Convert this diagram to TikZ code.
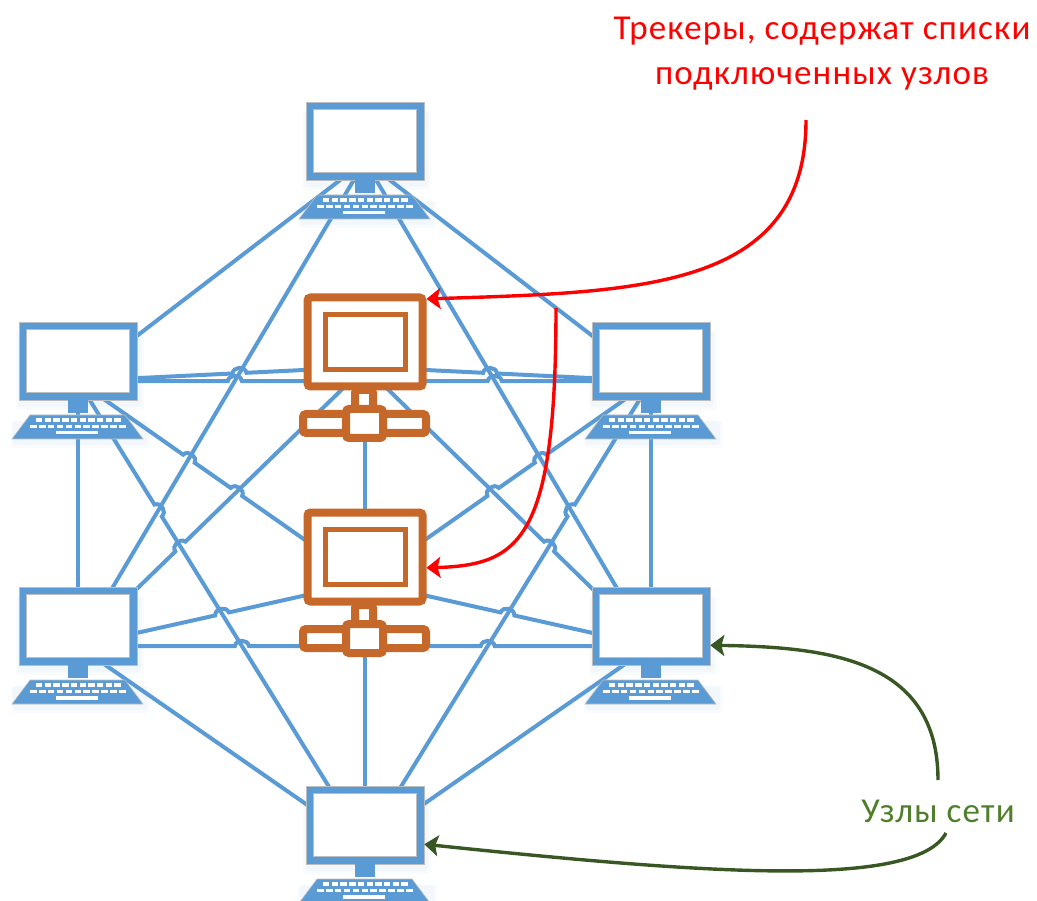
\documentclass[tikz,border=0pt]{standalone}
\usepackage{xcolor}
\usepackage{fontspec}
\setmainfont[LetterSpace=3.3]{Carlito}
\usepackage{tikz}
\usetikzlibrary{calc,arrows.meta}

\definecolor{pcblue}{HTML}{5B9BD5}
\definecolor{pcedge}{HTML}{BDBDBD}
\definecolor{srvbrown}{HTML}{C5682A}
\definecolor{noteGreen}{HTML}{385723}
\definecolor{textGreen}{HTML}{4F7F2B}

% line piece that jumps over another line at a crossing
\newcommand{\hopon}[3]{-- ($(#1)!7pt!(#2)$) to[bend left=80, looseness=1.3] ($(#1)!7pt!(#3)$)}
\newcommand{\crossat}[5]{\coordinate (#1) at (intersection of #2.center--#3.center and #4.center--#5.center);}

% computer: screen node named <hub>m, stand and keyboard around the hub
\newcommand{\pcicon}[1]{
  \begin{scope}[shift={(#1.center)}]
    \foreach \r in {6,3} {
      \fill[pcblue, opacity=0.04, rounded corners=3pt] (-59-\r/2,-50) rectangle (60+\r,23+\r);
      \fill[pcblue, opacity=0.04, rounded corners=3pt] (-64-\r/2,40) rectangle (66+\r,61+\r);
    }
    \node[pcscreen] (#1m) at (0,-20) {};
    \node[pcinner] (#1i) at (#1m) {};
    \fill[pcblue] (-10,19) rectangle (10,32);
    \filldraw[fill=pcblue, draw=pcedge, line width=0.6pt] (-48,34) -- (47,34) -- (65,58) -- (-66,58) -- cycle;
    \foreach \k in {0,...,9} \fill[white] (-42+\k*8.7,37) rectangle ++(6.4,3.6);
    \foreach \k in {0,...,10} \fill[white] (-48+\k*8.9,43.6) rectangle ++(6.6,3.6);
    \fill[white] (-22,50) rectangle (20,53.5);
  \end{scope}
}

% tracker: screen with inner frame, neck and base bar
\newcommand{\srvicon}[1]{
  \begin{scope}[shift={(#1.center)}]
    \node[srvscreen] (#1m) at (0,-25) {};
    \node[srvinner] (#1i) at (0,-25) {};
    \draw[srvline] (-10,23) rectangle (8,43);
    \draw[srvline] (-62,47) rectangle (61,66);
    \draw[srvline] (-19,42) rectangle (18,71);
  \end{scope}
}

\begin{document}
\begin{tikzpicture}[
  x=1pt, y=-1pt,
  hub/.style={inner sep=0pt, minimum size=0pt},
  link/.style={draw=pcblue, line width=4pt},
  pcscreen/.style={rectangle, draw=pcedge, line width=0.6pt, fill=pcblue, inner sep=0pt, minimum width=118pt, minimum height=78pt},
  pcinner/.style={rectangle, draw=pcedge, line width=0.6pt, fill=white, inner sep=0pt, minimum width=103pt, minimum height=63pt},
  srvscreen/.style={rectangle, draw=srvbrown, line width=8pt, fill=white, rounded corners=3pt, inner sep=0pt, minimum width=115pt, minimum height=89pt},
  srvinner/.style={rectangle, draw=srvbrown, line width=5pt, fill=white, inner sep=0pt, minimum width=80pt, minimum height=55pt},
  srvline/.style={draw=srvbrown, line width=8pt, fill=white, rounded corners=3pt},
  redarrow/.style={draw=red, line width=3.4pt, -{Stealth[length=14pt, width=21pt, inset=3pt]}},
  greenarrow/.style={draw=noteGreen, line width=3.4pt, -{Stealth[length=14pt, width=21pt, inset=3pt]}},
  note/.style={align=center, inner sep=0pt, font=\fontsize{35}{45}\selectfont}
]
  \useasboundingbox (0,0) rectangle (1037,901);

  \node[hub] (pcT) at (365,161) {};
  \node[hub] (pcLa) at (78,381) {};
  \node[hub] (pcRa) at (651,381) {};
  \node[hub] (pcLb) at (78,646) {};
  \node[hub] (pcRb) at (651,646) {};
  \node[hub] (pcB) at (365,845) {};
  \node[hub] (srvA) at (365,367) {};
  \node[hub] (srvB) at (365,582) {};

  \crossat{hopA}{pcLa}{pcRa}{pcT}{pcLb}
  \crossat{hopB}{pcLa}{pcRa}{pcT}{pcRb}
  \crossat{hopC}{pcLa}{srvA}{pcT}{pcLb}
  \crossat{hopD}{srvA}{pcRa}{pcT}{pcRb}
  \crossat{hopE}{pcLa}{srvB}{pcT}{pcLb}
  \crossat{hopF}{pcLa}{srvB}{pcLb}{srvA}
  \crossat{hopG}{srvB}{pcRa}{srvA}{pcRb}
  \crossat{hopH}{srvB}{pcRa}{pcT}{pcRb}
  \crossat{hopI}{pcLa}{pcB}{pcT}{pcLb}
  \crossat{hopJ}{pcB}{pcRa}{pcT}{pcRb}
  \crossat{hopK}{pcLb}{srvA}{pcLa}{pcB}
  \crossat{hopL}{srvA}{pcRb}{pcB}{pcRa}
  \crossat{hopM}{pcLb}{srvB}{pcLa}{pcB}
  \crossat{hopN}{srvB}{pcRb}{pcB}{pcRa}
  \crossat{hopO}{pcLb}{pcRb}{pcLa}{pcB}
  \crossat{hopP}{pcLb}{pcRb}{pcB}{pcRa}

  \draw[link] (pcLa) -- (pcT);
  \draw[link] (pcLb) -- (pcT);
  \draw[link] (pcT) -- (pcRa);
  \draw[link] (pcT) -- (pcRb);
  \draw[link] (pcLa) -- (pcLb);
  \draw[link] (pcRa) -- (pcRb);
  \draw[link] (srvA) -- (srvB);
  \draw[link] (srvB) -- (pcB);
  \draw[link] (pcLb) -- (pcB);
  \draw[link] (pcB) -- (pcRb);
  \draw[link] (pcLa) \hopon{hopA}{pcLa}{pcRa} \hopon{hopB}{pcLa}{pcRa} -- (pcRa);
  \draw[link] (pcLa) \hopon{hopC}{pcLa}{srvA} -- (srvA);
  \draw[link] (srvA) \hopon{hopD}{srvA}{pcRa} -- (pcRa);
  \draw[link] (pcLa) \hopon{hopE}{pcLa}{srvB} \hopon{hopF}{pcLa}{srvB} -- (srvB);
  \draw[link] (srvB) \hopon{hopG}{srvB}{pcRa} \hopon{hopH}{srvB}{pcRa} -- (pcRa);
  \draw[link] (pcLa) \hopon{hopI}{pcLa}{pcB} -- (pcB);
  \draw[link] (pcB) \hopon{hopJ}{pcB}{pcRa} -- (pcRa);
  \draw[link] (pcLb) \hopon{hopK}{pcLb}{srvA} -- (srvA);
  \draw[link] (srvA) \hopon{hopL}{srvA}{pcRb} -- (pcRb);
  \draw[link] (pcLb) \hopon{hopM}{pcLb}{srvB} -- (srvB);
  \draw[link] (srvB) \hopon{hopN}{srvB}{pcRb} -- (pcRb);
  \draw[link] (pcLb) \hopon{hopO}{pcLb}{pcRb} \hopon{hopP}{pcLb}{pcRb} -- (pcRb);

  \pcicon{pcT}
  \pcicon{pcLa}
  \pcicon{pcRa}
  \pcicon{pcLb}
  \pcicon{pcRb}
  \pcicon{pcB}
  \srvicon{srvA}
  \srvicon{srvB}

  \node[note, text=red] (noteTrackers) at (822,54) {Трекеры, содержат списки\\подключенных узлов};
  \node[note, text=textGreen] (noteNodes) at (938,811) {Узлы сети};

  \coordinate (trackStart) at (806,120);
  \coordinate (trackMid) at (556,308);
  \draw[redarrow] (trackStart) .. controls (806,290) and (640,292) .. (srvAm.35);
  \draw[redarrow] (trackMid) .. controls (556,540) and (520,565) .. (srvBm.-10);
  \coordinate (nodesUp) at (938,780);
  \coordinate (nodesDown) at (946,833);
  \draw[greenarrow] (nodesUp) .. controls (938,660) and (830,647) .. (pcRbm.-18);
  \draw[greenarrow] (nodesDown) .. controls (915,890) and (700,873) .. (pcBm.-18);
\end{tikzpicture}
\end{document}
